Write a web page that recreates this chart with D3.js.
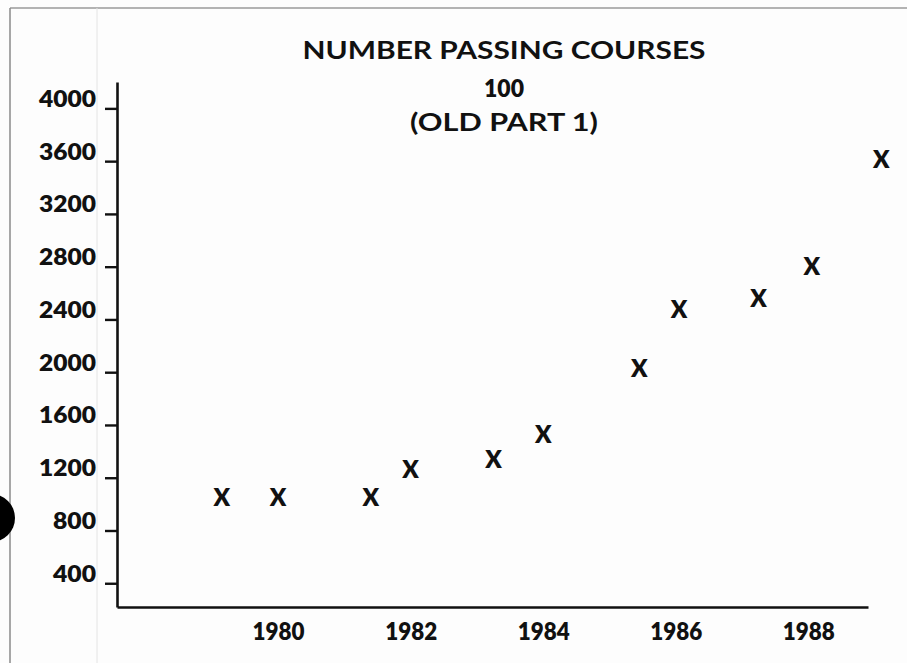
<!DOCTYPE html>
<html>
<head>
<meta charset="utf-8">
<script src="https://cdn.jsdelivr.net/npm/d3@7"></script>
<style>
  html, body { margin: 0; padding: 0; background: #fdfdfd; }
  svg { display: block; }
</style>
</head>
<body>
<svg id="chart" width="907" height="663"></svg>
<script>
// ---- data ----
const titleLines = ["NUMBER PASSING COURSES", "100", "(OLD PART 1)"];
const years  = [1979.15, 1980.0, 1981.4, 1982.0, 1983.25, 1984.0, 1985.45, 1986.05, 1987.25, 1988.05, 1989.1];
const passed = [1050, 1050, 1050, 1260, 1340, 1530, 2030, 2480, 2560, 2800, 3610];
const yTickValues = [400, 800, 1200, 1600, 2000, 2400, 2800, 3200, 3600, 4000];
const xTickValues = [1980, 1982, 1984, 1986, 1988];

const svg = d3.select("#chart");
const W = 907, H = 663;
const FONT = "Lato, 'Open Sans', sans-serif";

// scanned page decoration: frame lines and punch hole
svg.append("rect").attr("x", 0).attr("y", 0).attr("width", W).attr("height", H).attr("fill", "#fdfdfd");
svg.append("line").attr("x1", 10).attr("x2", W).attr("y1", 8).attr("y2", 8)
  .attr("stroke", "#9a9a9a").attr("stroke-width", 1.5);
svg.append("line").attr("x1", 10).attr("x2", 10).attr("y1", 8).attr("y2", H)
  .attr("stroke", "#8a8a8a").attr("stroke-width", 1.5);
svg.append("line").attr("x1", 97).attr("x2", 97).attr("y1", 8).attr("y2", H)
  .attr("stroke", "#e4e4e4").attr("stroke-width", 1);
svg.append("circle").attr("cx", -9).attr("cy", 518).attr("r", 24).attr("fill", "#000");

// scales
const x = d3.scaleLinear().domain([1977.57, 1988.9]).range([117, 868]);
const y = d3.scaleLinear().domain([220, 4200]).range([607, 82]);

// title
const titleSizes = [24, 25, 24];
const titleWeights = [700, 800, 700];
const titleBase = [59, 97, 131];
const titleLen = [403, 40, 188];
svg.append("g").selectAll("text").data(titleLines).join("text")
  .attr("x", 504)
  .attr("y", (d, i) => titleBase[i])
  .attr("text-anchor", "middle")
  .attr("font-family", FONT)
  .attr("font-weight", (d, i) => titleWeights[i])
  .attr("font-size", (d, i) => titleSizes[i])
  .attr("textLength", (d, i) => titleLen[i])
  .attr("lengthAdjust", "spacingAndGlyphs")
  .attr("fill", "#111")
  .text(d => d);

// y axis
const yAxis = svg.append("g")
  .attr("transform", "translate(117,0)")
  .call(d3.axisLeft(y).tickValues(yTickValues).tickSize(12).tickSizeOuter(0).tickPadding(9).tickFormat(d3.format("d")));
yAxis.select(".domain").attr("stroke", "#111").attr("stroke-width", 2.6);
yAxis.selectAll(".tick line").attr("stroke", "#111").attr("stroke-width", 2.4);
yAxis.selectAll(".tick text")
  .attr("font-family", FONT).attr("font-weight", 800).attr("font-size", 23)
  .attr("fill", "#111").attr("dy", "-2px")
  .attr("textLength", d => d >= 1000 ? 57 : 43).attr("lengthAdjust", "spacingAndGlyphs");

// x axis
const xAxis = svg.append("g")
  .attr("transform", "translate(0,607)")
  .call(d3.axisBottom(x).tickValues(xTickValues).tickSize(0).tickSizeOuter(0).tickPadding(16).tickFormat(d3.format("d")));
xAxis.select(".domain").attr("stroke", "#111").attr("stroke-width", 2.6);
xAxis.selectAll(".tick text")
  .attr("font-family", FONT).attr("font-weight", 800).attr("font-size", 24)
  .attr("fill", "#111").attr("textLength", 52).attr("lengthAdjust", "spacingAndGlyphs");

// points drawn as "X" marks
svg.append("g").selectAll("text").data(years.map((yr, i) => ({yr, v: passed[i]}))).join("text")
  .attr("x", d => x(d.yr))
  .attr("y", d => y(d.v))
  .attr("dy", "0.36em")
  .attr("text-anchor", "middle")
  .attr("font-family", FONT)
  .attr("font-weight", 800)
  .attr("font-size", 24)
  .attr("fill", "#111")
  .text("X");
</script>
</body>
</html>
